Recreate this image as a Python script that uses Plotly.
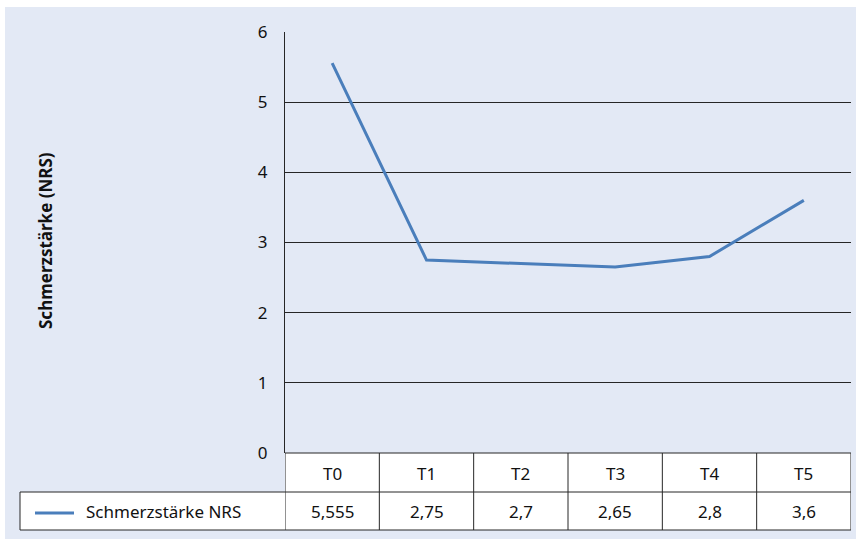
import plotly.graph_objects as go

categories = ["T0", "T1", "T2", "T3", "T4", "T5"]
values = [5.555, 2.75, 2.7, 2.65, 2.8, 3.6]
series_name = "Schmerzstärke NRS"
y_title = "Schmerzstärke (NRS)"
y_ticks = [0, 1, 2, 3, 4, 5, 6]

W, H = 856, 539
L, R, T, B = 285, 851, 32, 453  # plot area in pixels
PW, PH = R - L, B - T

def px(x):
    return (x - L) / PW

def py(y):
    return (B - y) / PH

FONT = "Noto Sans"
FS = 17
BG = "#e3e9f5"
LINE = "#4a7ebb"
GRID = "#262626"
TXT = "#111111"

fig = go.Figure()
fig.add_trace(go.Scatter(
    x=categories, y=values, mode="lines", name=series_name,
    line=dict(color=LINE, width=3), showlegend=False,
))

shapes = []
# background panel
shapes.append(dict(type="rect", xref="paper", yref="paper", x0=px(5), x1=px(W + 5),
                   y0=py(H + 5), y1=py(7), fillcolor=BG, line_width=0, layer="below"))

row1_bot = py(492)
row2_bot = py(530)
# white cells fill
shapes.append(dict(type="rect", xref="paper", yref="paper", x0=0, x1=1,
                   y0=row1_bot, y1=0, fillcolor="white", line_width=0, layer="below"))
shapes.append(dict(type="rect", xref="paper", yref="paper", x0=px(20), x1=1,
                   y0=row2_bot, y1=row1_bot, fillcolor="white", line_width=0, layer="below"))
# table vertical lines (at category boundaries)
for i in range(len(categories) + 1):
    xv = i - 0.5
    shapes.append(dict(type="line", xref="x", yref="paper", x0=xv, x1=xv,
                       y0=row2_bot, y1=0, line=dict(color=GRID, width=1)))
# horizontal table lines
for yy in (row1_bot, row2_bot):
    shapes.append(dict(type="line", xref="paper", yref="paper", x0=px(20), x1=1,
                       y0=yy, y1=yy, line=dict(color=GRID, width=1)))
shapes.append(dict(type="line", xref="paper", yref="paper", x0=0, x1=1,
                   y0=0, y1=0, line=dict(color=GRID, width=1)))
# legend cell left border
shapes.append(dict(type="line", xref="paper", yref="paper", x0=px(20), x1=px(20),
                   y0=row2_bot, y1=row1_bot, line=dict(color=GRID, width=1)))
# legend sample line
shapes.append(dict(type="line", xref="paper", yref="paper", x0=px(35), x1=px(74),
                   y0=py(513), y1=py(513), line=dict(color=LINE, width=3)))

font = dict(family=FONT, size=FS, color=TXT)
annotations = []
for c, v in zip(categories, values):
    annotations.append(dict(x=c, xref="x", y=py(473), yref="paper", text=c,
                            showarrow=False, font=font, xanchor="center", yanchor="middle"))
    annotations.append(dict(x=c, xref="x", y=py(511), yref="paper",
                            text=("%g" % v).replace(".", ","),
                            showarrow=False, font=font, xanchor="center", yanchor="middle"))
annotations.append(dict(x=px(84), xref="paper", y=py(511), yref="paper", text=series_name,
                        showarrow=False, font=font, xanchor="left", yanchor="middle"))
annotations.append(dict(x=px(45), xref="paper", y=py(241), yref="paper",
                        text="<b>" + y_title + "</b>", textangle=-90,
                        showarrow=False, font=font, xanchor="center", yanchor="middle"))

fig.update_layout(
    width=W, height=H,
    margin=dict(l=L, r=W - R, t=T, b=H - B, pad=0),
    paper_bgcolor="white", plot_bgcolor=BG,
    separators=",.",
    shapes=shapes, annotations=annotations,
    showlegend=False,
    xaxis=dict(range=[-0.5, 5.5], showticklabels=False, showgrid=False,
               zeroline=False, showline=False, ticks=""),
    yaxis=dict(range=[0, 6], tickvals=y_ticks, showgrid=True, gridcolor=GRID, gridwidth=1,
               zeroline=False, showline=True, linecolor=GRID, linewidth=1,
               ticks="", ticklabelstandoff=13,
               tickfont=font),
)

fig.write_html("out.html")
